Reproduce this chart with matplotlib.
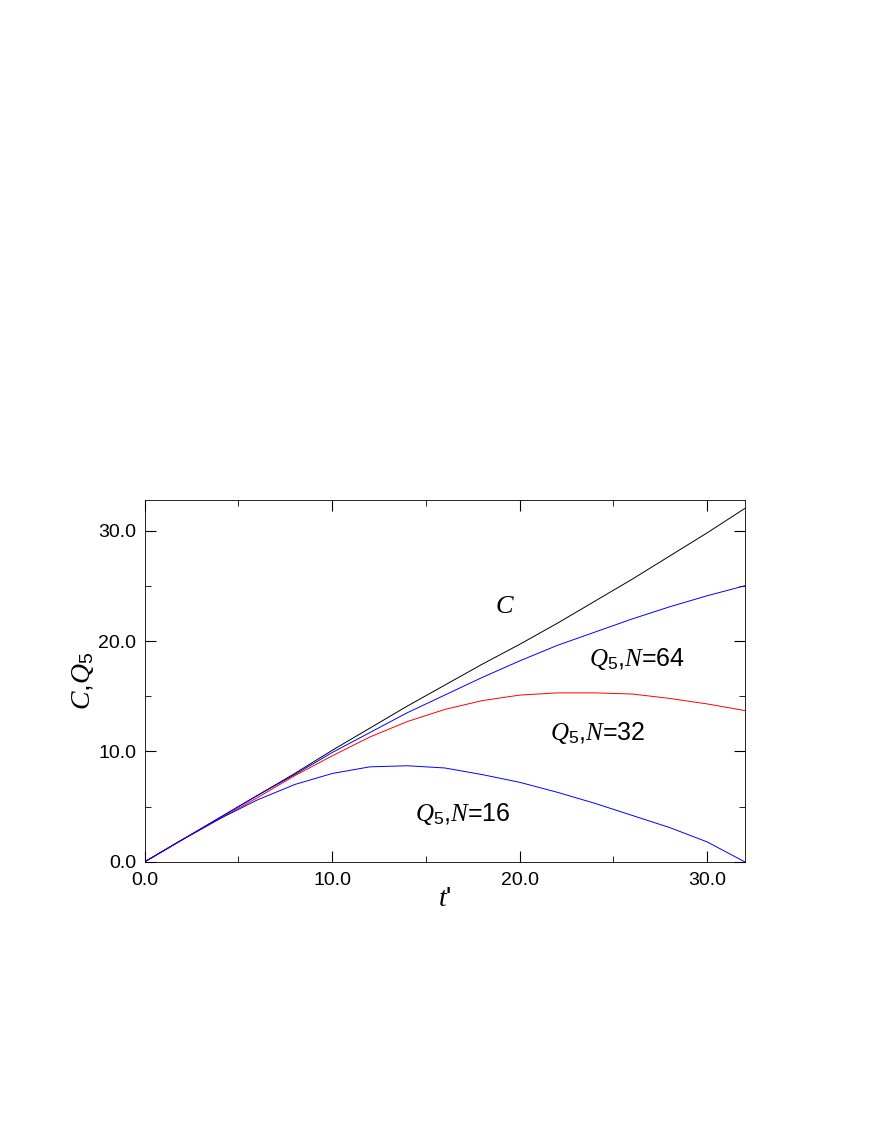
import matplotlib as mpl
mpl.use("Agg")
import matplotlib.pyplot as plt
import numpy as np
from matplotlib.ticker import MultipleLocator, FormatStrFormatter

mpl.rcParams.update({
    "font.family": "Liberation Sans",
    "mathtext.fontset": "custom",
    "mathtext.rm": "Liberation Sans",
    "mathtext.it": "Liberation Serif:italic",
})

# values
t = [0, 2, 4, 6, 8, 10, 12, 14, 16, 18, 20, 22, 24, 26, 28, 30, 32]
c_vals = [0, 2.0, 4.0, 6.0, 8.0, 10.1, 12.1, 14.1, 16.0, 17.9, 19.7, 21.6, 23.6, 25.6, 27.7, 29.8, 32.0]
q64 = [0, 2.0, 4.0, 6.0, 7.9, 9.9, 11.7, 13.5, 15.1, 16.7, 18.2, 19.6, 20.8, 22.0, 23.1, 24.1, 25.0]
q32 = [0, 2.0, 3.9, 5.8, 7.8, 9.6, 11.3, 12.7, 13.8, 14.6, 15.1, 15.3, 15.3, 15.2, 14.8, 14.3, 13.7]
q16 = [0, 2.0, 3.9, 5.6, 7.0, 8.0, 8.6, 8.7, 8.5, 7.9, 7.2, 6.3, 5.3, 4.2, 3.1, 1.8, 0.0]

fig = plt.figure(figsize=(8.72, 11.28), dpi=100)
ax = fig.add_axes([0.166, 0.236, 0.688, 0.321])

ax.plot(t, c_vals, color="black", lw=0.7)
ax.plot(t, q64, color="blue", lw=0.7)
ax.plot(t, q32, color="red", lw=0.7)
ax.plot(t, q16, color="blue", lw=0.7)

ax.set_xlim(0, 32)
ax.set_ylim(0, 32.8)
ax.xaxis.set_major_locator(MultipleLocator(10))
ax.xaxis.set_minor_locator(MultipleLocator(5))
ax.yaxis.set_major_locator(MultipleLocator(10))
ax.yaxis.set_minor_locator(MultipleLocator(5))
ax.xaxis.set_major_formatter(FormatStrFormatter("%.1f"))
ax.yaxis.set_major_formatter(FormatStrFormatter("%.1f"))
ax.tick_params(which="both", direction="in", top=True, right=True, labelsize=14)
ax.tick_params(which="major", length=8)
ax.tick_params(which="minor", length=4)
ax.tick_params(axis="x", pad=7)
ax.tick_params(axis="y", pad=6)
for s in ax.spines.values():
    s.set_linewidth(0.6)

ax.set_xlabel(r"$t$'", fontsize=20, labelpad=-2)
ax.set_ylabel(r"$C$,$Q_5$", fontsize=20, labelpad=2)

ax.text(18.7, 22.5, r"$C$", fontsize=19)
ax.text(23.7, 17.7, r"$Q_5$,$N$=64", fontsize=18)
ax.text(21.6, 11.0, r"$Q_5$,$N$=32", fontsize=18)
ax.text(14.4, 3.7, r"$Q_5$,$N$=16", fontsize=18)

fig.savefig("out.png", dpi=100)
